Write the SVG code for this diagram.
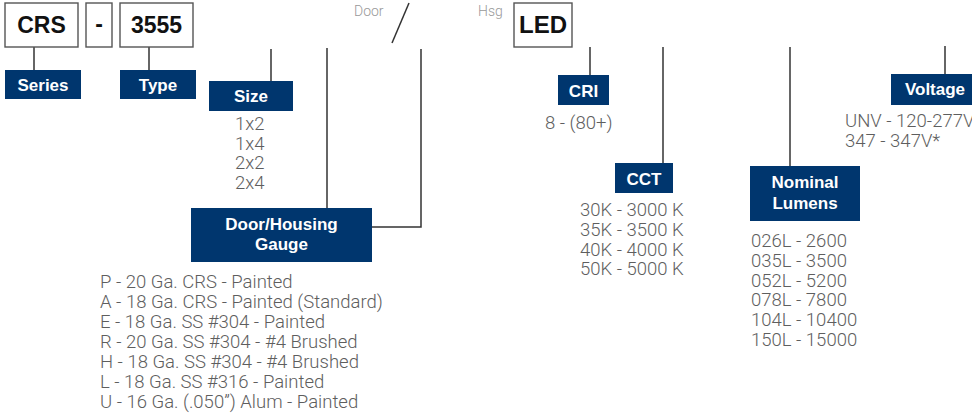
<svg xmlns="http://www.w3.org/2000/svg" width="972" height="415" viewBox="0 0 972 415">
<style>
.code{fill:#fff;stroke:#555;stroke-width:1.4}
.codet{font-family:"Liberation Sans",Arial,sans-serif;font-weight:bold;font-size:23px;fill:#111;text-anchor:middle}
.lab{fill:#00366e}
.labt{font-family:"Liberation Sans",Arial,sans-serif;font-weight:bold;font-size:17px;fill:#fff;text-anchor:middle}
.val{font-family:Roboto,"Liberation Sans",sans-serif;font-weight:300;font-size:18.5px;fill:#5e5e5e}
.small{font-family:Roboto,"Liberation Sans",sans-serif;font-weight:300;font-size:14px;fill:#999}
.con{stroke:#333;stroke-width:1.5;fill:none}
</style>
<g id="connectors">
<line class="con" x1="34" y1="47" x2="34" y2="70"/>
<line class="con" x1="149" y1="47" x2="149" y2="70"/>
<line class="con" x1="271" y1="49" x2="271" y2="81"/>
<line class="con" x1="327" y1="48" x2="327" y2="208"/>
<polyline class="con" points="421,49 421,227 372,227"/>
<line class="con" x1="409" y1="3" x2="392" y2="43"/>
<line class="con" x1="590" y1="47" x2="590" y2="75"/>
<line class="con" x1="663" y1="47" x2="663" y2="163"/>
<line class="con" x1="790" y1="47" x2="790" y2="166"/>
<line class="con" x1="945" y1="46" x2="945" y2="74"/>
</g>
<g id="code-crs"><rect class="code" x="5" y="3" width="73" height="44"/><text class="codet" x="41.5" y="33">CRS</text></g>
<g id="code-dash"><rect class="code" x="86" y="3" width="26" height="44"/><text class="codet" x="99" y="32">-</text></g>
<g id="code-3555"><rect class="code" x="120" y="3" width="73" height="44"/><text class="codet" x="156.5" y="33">3555</text></g>
<g id="door-hsg"><text class="small" x="354" y="16">Door</text><text class="small" x="478" y="16">Hsg</text></g>
<g id="code-led"><rect class="code" x="514" y="3" width="58" height="44"/><text class="codet" x="543" y="33" style="font-size:24px">LED</text></g>
<g id="series"><rect class="lab" x="5" y="70" width="76" height="29"/><text class="labt" x="43" y="91">Series</text></g>
<g id="type"><rect class="lab" x="120" y="70" width="76" height="29"/><text class="labt" x="158" y="91">Type</text></g>
<g id="size"><rect class="lab" x="209" y="81" width="84" height="30"/><text class="labt" x="251" y="102">Size</text>
<text class="val" x="235" y="130">1x2</text><text class="val" x="235" y="150">1x4</text><text class="val" x="235" y="169">2x2</text><text class="val" x="235" y="189">2x4</text></g>
<g id="gauge"><rect class="lab" x="191" y="208" width="181" height="54"/><text class="labt" x="281.5" y="230">Door/Housing</text><text class="labt" x="281.5" y="250">Gauge</text>
<text class="val" x="100" y="288">P - 20 Ga. CRS - Painted</text>
<text class="val" x="100" y="308">A - 18 Ga. CRS - Painted (Standard)</text>
<text class="val" x="100" y="328">E - 18 Ga. SS #304 - Painted</text>
<text class="val" x="100" y="348">R - 20 Ga. SS #304 - #4 Brushed</text>
<text class="val" x="100" y="368">H - 18 Ga. SS #304 - #4 Brushed</text>
<text class="val" x="100" y="388">L - 18 Ga. SS #316 - Painted</text>
<text class="val" x="100" y="408">U - 16 Ga. (.050”) Alum - Painted</text></g>
<g id="cri"><rect class="lab" x="558" y="75" width="51" height="30"/><text class="labt" x="583.5" y="97">CRI</text>
<text class="val" x="545" y="129">8 - (80+)</text></g>
<g id="cct"><rect class="lab" x="615" y="163" width="58" height="30"/><text class="labt" x="644" y="185">CCT</text>
<text class="val" x="580" y="216">30K - 3000 K</text><text class="val" x="580" y="236">35K - 3500 K</text><text class="val" x="580" y="256">40K - 4000 K</text><text class="val" x="580" y="275">50K - 5000 K</text></g>
<g id="lumens"><rect class="lab" x="750" y="166" width="110" height="55"/><text class="labt" x="805" y="188">Nominal</text><text class="labt" x="805" y="209">Lumens</text>
<text class="val" x="751" y="247">026L - 2600</text><text class="val" x="751" y="267">035L - 3500</text><text class="val" x="751" y="287">052L - 5200</text><text class="val" x="751" y="306">078L - 7800</text><text class="val" x="751" y="326">104L - 10400</text><text class="val" x="751" y="346">150L - 15000</text></g>
<g id="voltage"><rect class="lab" x="891" y="74" width="90" height="31"/><text class="labt" x="935" y="95">Voltage</text>
<text class="val" x="845" y="127">UNV - 120-277V</text><text class="val" x="845" y="147">347 - 347V*</text></g>
</svg>
